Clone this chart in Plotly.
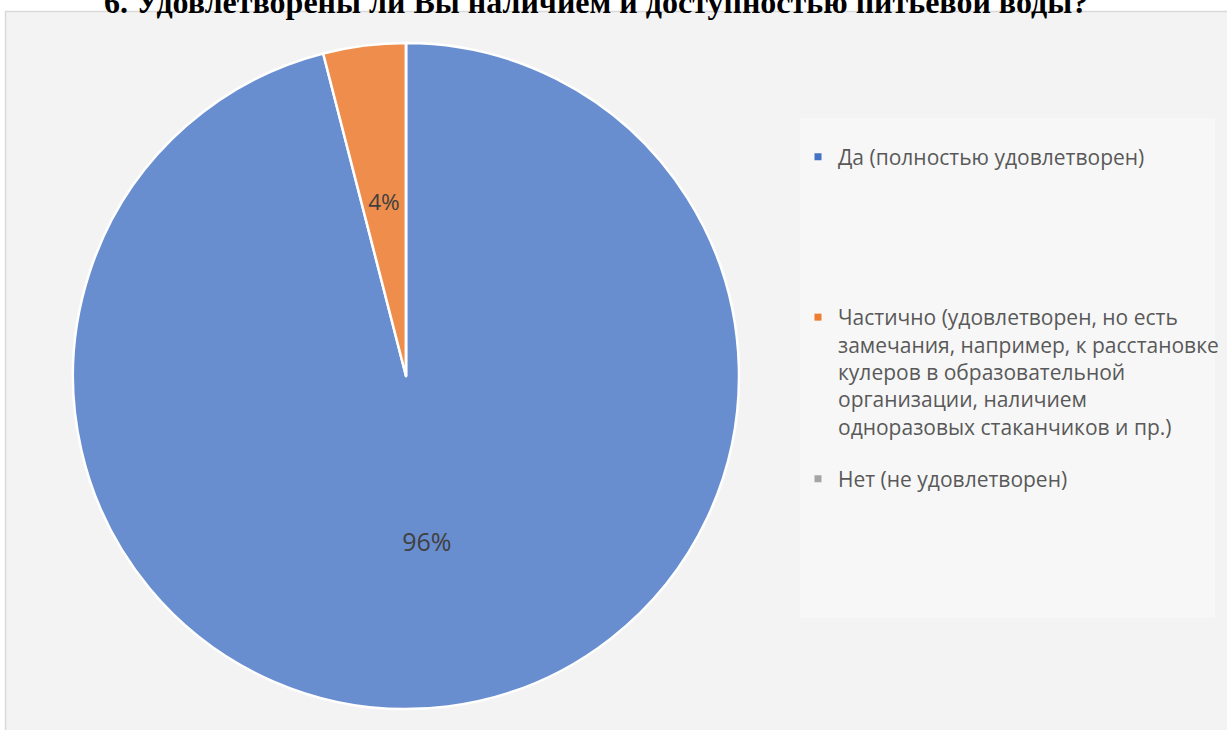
import plotly.graph_objects as go

# ---- data ----
categories = [
    "Да (полностью удовлетворен)",
    "Частично (удовлетворен, но есть<br>замечания, например, к расстановке<br>кулеров в образовательной<br>организации, наличием<br>одноразовых стаканчиков и пр.)",
    "Нет (не удовлетворен)",
]
values = [96, 4, 0]
slice_colors = ["#698ED0", "#EF8E4C", "#A5A5A5"]
legend_colors = ["#4472C4", "#ED7D31", "#A5A5A5"]
title_text = "6. Удовлетворены ли Вы наличием и доступностью питьевой воды?"

W, H = 1227, 730

def px_x(v):
    return v / W

def px_y(v):
    return 1 - v / H

CX, CY, R = 406, 376, 333   # pie centre / radius in pixels (layout)
R_LBL = 198                 # radius of the label layer for the small slice

fig = go.Figure()

# main pie (shows the big slice's label)
fig.add_trace(go.Pie(
    labels=categories,
    values=values,
    sort=False,
    direction="clockwise",
    rotation=0,
    marker=dict(colors=slice_colors, line=dict(color="white", width=2.5)),
    texttemplate=["%{percent:.0%}", "", ""],
    textposition="inside",
    insidetextorientation="horizontal",
    textfont=dict(family="Open Sans", size=25, color="#404040"),
    domain=dict(x=[px_x(CX - R), px_x(CX + R)], y=[px_y(CY + R), px_y(CY - R)]),
    showlegend=False,
    hoverinfo="label+percent",
))

# label layer: same data, transparent, places the small slice's label mid-radius
fig.add_trace(go.Pie(
    labels=categories,
    values=values,
    sort=False,
    direction="clockwise",
    rotation=0,
    marker=dict(colors=["rgba(0,0,0,0)"] * 3, line=dict(width=0)),
    texttemplate=["", "%{percent:.0%}", ""],
    textposition="inside",
    insidetextorientation="horizontal",
    textfont=dict(family="Open Sans", size=25, color="#404040"),
    domain=dict(x=[px_x(CX - R_LBL), px_x(CX + R_LBL)],
                y=[px_y(CY + R_LBL), px_y(CY - R_LBL)]),
    showlegend=False,
    hoverinfo="skip",
))

legend_names = ["legend", "legend2", "legend3"]
for name, col, lg in zip(categories, legend_colors, legend_names):
    fig.add_trace(go.Scatter(
        x=[None], y=[None], mode="markers", name=name,
        marker=dict(symbol="square", size=7, color=col),
        legend=lg, showlegend=True, hoverinfo="skip",
    ))

legend_font = dict(family="Open Sans", size=21, color="#595959")
common = dict(font=legend_font, bgcolor="rgba(0,0,0,0)", valign="top",
              xanchor="left", borderwidth=0)
lx = px_x(798)

fig.update_layout(
    width=W, height=H,
    margin=dict(l=0, r=0, t=0, b=0),
    paper_bgcolor="white",
    plot_bgcolor="rgba(0,0,0,0)",
    xaxis=dict(visible=False),
    yaxis=dict(visible=False),
    legend=dict(x=lx, y=px_y(157), yanchor="middle", **common),
    legend2=dict(x=lx, y=px_y(297), yanchor="top", **common),
    legend3=dict(x=lx, y=px_y(479), yanchor="middle", **common),
    shapes=[
        dict(type="rect", xref="paper", yref="paper", layer="below",
             x0=px_x(5.5), x1=1.02, y0=-0.02, y1=px_y(11.5),
             fillcolor="#F3F3F3", line=dict(color="#D9D9D9", width=1.5)),
        dict(type="rect", xref="paper", yref="paper", layer="below",
             x0=px_x(800), x1=px_x(1215), y0=px_y(618), y1=px_y(118),
             fillcolor="#F7F7F7", line=dict(width=0)),
    ],
    annotations=[
        dict(text="<b>" + title_text + "</b>", xref="paper", yref="paper",
             x=px_x(596), y=px_y(2), xanchor="center", yanchor="middle",
             showarrow=False,
             font=dict(family="Liberation Serif", size=32, color="black")),
    ],
)

fig.write_html("out.html", config={"displayModeBar": False},
               post_script="document.body.style.margin='0';")
